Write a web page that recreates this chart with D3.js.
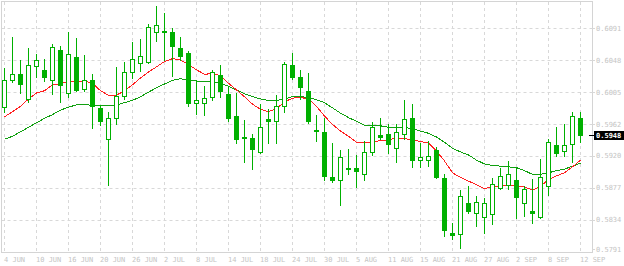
<!DOCTYPE html>
<html>
<head>
<meta charset="utf-8">
<script src="https://cdn.jsdelivr.net/npm/d3@7"></script>
<style>
  body { margin: 0; background: #fff; }
  svg { display: block; }
  text { font-family: "DejaVu Sans Mono", monospace; font-size: 7px; }
</style>
</head>
<body>
<div id="chart"></div>
<script>
// daily bars, oldest first (73 bars, 4 JUN .. 12 SEP)
var open = [0.5985,0.6022,0.6030,0.5996,0.6040,0.6035,0.6021,0.6062,0.6004,0.6052,
  0.6009,0.6021,0.5984,0.5942,0.5970,0.6000,0.6032,0.6044,0.6045,0.6085,
  0.6087,0.6085,0.6064,0.6058,0.5990,0.5991,0.5998,0.6028,0.6003,0.5973,
  0.5945,0.5944,0.5925,0.5969,0.5966,0.5987,0.6041,0.6025,0.6007,0.5955,
  0.5952,0.5891,0.5888,0.5902,0.5903,0.5895,0.5925,0.5948,0.5949,0.5930,
  0.5949,0.5970,0.5914,0.5914,0.5928,0.5890,0.5817,0.5815,0.5857,0.5843,
  0.5838,0.5842,0.5877,0.5881,0.5888,0.5856,0.5846,0.5838,0.5880,0.5934,
  0.5926,0.5935,0.5970];
var high = [0.6037,0.6079,0.6048,0.6064,0.6056,0.6049,0.6070,0.6067,0.6086,0.6077,
  0.6055,0.6030,0.5988,0.5978,0.6039,0.6046,0.6072,0.6076,0.6096,0.6120,
  0.6111,0.6091,0.6079,0.6060,0.6021,0.6013,0.6035,0.6041,0.6013,0.6004,
  0.5968,0.5949,0.5989,0.5982,0.6001,0.6046,0.6058,0.6035,0.6031,0.5974,
  0.5971,0.5937,0.5928,0.5929,0.5921,0.5939,0.5965,0.5970,0.5963,0.5963,
  0.5995,0.5989,0.5937,0.5940,0.5931,0.5896,0.5830,0.5874,0.5879,0.5866,
  0.5863,0.5890,0.5904,0.5913,0.5904,0.5879,0.5889,0.5916,0.5943,0.5958,
  0.5962,0.5978,0.5978];
var low = [0.5978,0.6019,0.6004,0.5992,0.6026,0.6020,0.6003,0.5992,0.5998,0.6007,
  0.6006,0.5957,0.5961,0.5881,0.5962,0.5996,0.6024,0.6033,0.6044,0.6073,
  0.6048,0.6027,0.6048,0.5986,0.5976,0.5974,0.5994,0.5998,0.5966,0.5937,
  0.5911,0.5902,0.5923,0.5937,0.5937,0.5978,0.6023,0.5996,0.5964,0.5940,
  0.5887,0.5885,0.5854,0.5896,0.5878,0.5888,0.5921,0.5943,0.5923,0.5911,
  0.5943,0.5905,0.5905,0.5906,0.5890,0.5813,0.5808,0.5797,0.5843,0.5826,
  0.5816,0.5828,0.5875,0.5876,0.5836,0.5839,0.5830,0.5837,0.5867,0.5920,
  0.5919,0.5911,0.5938];
var close = [0.6022,0.6030,0.6016,0.6042,0.6048,0.6026,0.6065,0.6014,0.6056,0.6008,
  0.6022,0.5987,0.5966,0.5970,0.6000,0.6032,0.6050,0.6054,0.6092,0.6095,
  0.6085,0.6067,0.6054,0.5991,0.5994,0.5997,0.6032,0.6007,0.5970,0.5943,
  0.5944,0.5929,0.5958,0.5966,0.5986,0.6043,0.6025,0.6012,0.5967,0.5953,
  0.5893,0.5887,0.5918,0.5904,0.5900,0.5925,0.5958,0.5945,0.5935,0.5952,
  0.5969,0.5914,0.5918,0.5919,0.5891,0.5821,0.5814,0.5866,0.5846,0.5858,
  0.5856,0.5882,0.5893,0.5895,0.5864,0.5876,0.5843,0.5891,0.5938,0.5924,
  0.5934,0.5973,0.5948];

// moving averages as shown (red = fast, green = slow)
var maFast = [0.5972,0.5979,0.5986,0.5996,0.6004,0.6007,0.6015,0.6016,0.6020,0.6020,
  0.6020,0.6017,0.6007,0.6001,0.6001,0.6007,0.6015,0.6024,0.6032,0.6039,
  0.6046,0.6050,0.6048,0.6042,0.6035,0.6029,0.6030,0.6027,0.6017,0.6008,
  0.5999,0.5989,0.5982,0.5979,0.5983,0.5992,0.5997,0.5998,0.5996,0.5986,
  0.5973,0.5962,0.5953,0.5946,0.5938,0.5937,0.5939,0.5940,0.5941,0.5944,
  0.5943,0.5941,0.5939,0.5937,0.5926,0.5913,0.5897,0.5891,0.5886,0.5881,
  0.5876,0.5878,0.5880,0.5881,0.5880,0.5878,0.5874,0.5879,0.5888,0.5893,
  0.5897,0.5905,0.5914];
var maSlow = [0.5942,0.5946,0.5952,0.5958,0.5964,0.5970,0.5975,0.5981,0.5985,0.5988,
  0.5989,0.5987,0.5987,0.5987,0.5988,0.5991,0.5994,0.5999,0.6005,0.6011,
  0.6016,0.6021,0.6023,0.6021,0.6020,0.6019,0.6019,0.6017,0.6013,0.6008,
  0.6003,0.5999,0.5996,0.5994,0.5994,0.5996,0.5999,0.5999,0.5998,0.5995,
  0.5991,0.5984,0.5977,0.5971,0.5966,0.5961,0.5961,0.5960,0.5958,0.5958,
  0.5958,0.5956,0.5953,0.5950,0.5945,0.5938,0.5930,0.5925,0.5921,0.5914,
  0.5909,0.5907,0.5906,0.5905,0.5904,0.5900,0.5895,0.5895,0.5897,0.5900,
  0.5902,0.5906,0.5910];

var xLabels = ["4 JUN","10 JUN","16 JUN","20 JUN","26 JUN","2 JUL","8 JUL","14 JUL","18 JUL","24 JUL",
  "30 JUL","5 AUG","11 AUG","15 AUG","21 AUG","27 AUG","2 SEP","8 SEP","12 SEP"];
var labelBars = [0,4,8,12,16,20,24,28,32,36,40,44,48,52,56,60,64,68,72];
var yTicks = [0.6091,0.6048,0.6005,0.5962,0.5920,0.5877,0.5834,0.5791];
var lastPrice = 0.5948;

var width = 624, height = 266;
var candleCol = "#00b000", gridCol = "#d8d8d8", textCol = "#c4c4c4";

var svg = d3.select("#chart").append("svg")
    .attr("width", width)
    .attr("height", height);

var x = d3.scaleLinear().domain([0, open.length - 1]).range([4.5, 580.5]);
var y = d3.scaleLinear().domain([0.5791, 0.6091]).range([252, 28]);
var py = function(v) { return Math.round(y(v)); };

// grid
svg.append("g").selectAll("line")
    .data(yTicks)
    .enter().append("line")
    .attr("x1", 1.5).attr("x2", 592)
    .attr("y1", d => py(d) + 0.5).attr("y2", d => py(d) + 0.5)
    .attr("stroke", gridCol)
    .attr("stroke-dasharray", "3,3");

svg.append("g").selectAll("line")
    .data(labelBars)
    .enter().append("line")
    .attr("x1", d => x(d)).attr("x2", d => x(d))
    .attr("y1", 2).attr("y2", 252)
    .attr("stroke", gridCol)
    .attr("stroke-dasharray", "3,3");

// frame
svg.append("rect")
    .attr("x", 1.5).attr("y", 1.5)
    .attr("width", 591).attr("height", 251)
    .attr("fill", "none")
    .attr("stroke", "#d4d4d4");

// moving averages
var line = d3.line()
    .x((d, i) => x(i))
    .y(d => y(d));

svg.append("path")
    .attr("d", line(maSlow))
    .attr("fill", "none")
    .attr("stroke", "#10a010")
    .attr("stroke-width", 1)
    .attr("shape-rendering", "crispEdges");

svg.append("path")
    .attr("d", line(maFast))
    .attr("fill", "none")
    .attr("stroke", "#ff2020")
    .attr("stroke-width", 1)
    .attr("shape-rendering", "crispEdges");

// candles
var bars = d3.range(open.length);
var g = svg.append("g").attr("shape-rendering", "crispEdges");

g.selectAll(".wick")
    .data(bars)
    .enter().append("rect")
    .attr("x", i => x(i) - 0.5)
    .attr("width", 1)
    .attr("y", i => py(high[i]))
    .attr("height", i => py(low[i]) - py(high[i]) + 1)
    .attr("fill", candleCol);

g.selectAll(".body")
    .data(bars)
    .enter().append("rect")
    .each(function(i) {
        var top = py(Math.max(open[i], close[i]));
        var bot = py(Math.min(open[i], close[i]));
        var r = d3.select(this);
        if (close[i] > open[i] && bot - top >= 2) {
            // bullish: hollow
            r.attr("x", x(i) - 2).attr("y", top + 0.5)
             .attr("width", 4).attr("height", bot - top)
             .attr("fill", "#fff").attr("stroke", candleCol);
        } else {
            r.attr("x", x(i) - 2.5).attr("y", top)
             .attr("width", 5).attr("height", Math.max(1, bot - top + 1))
             .attr("fill", candleCol);
        }
    });

// price axis
var ya = svg.append("g");
ya.selectAll("line")
    .data(yTicks)
    .enter().append("line")
    .attr("x1", 592).attr("x2", 595)
    .attr("y1", d => Math.min(py(d), 249) + 0.5).attr("y2", d => Math.min(py(d), 249) + 0.5)
    .attr("stroke", gridCol);
ya.selectAll("text")
    .data(yTicks)
    .enter().append("text")
    .attr("x", 596)
    .attr("y", d => Math.min(y(d) + 2.5, 251.5))
    .attr("fill", textCol)
    .text(d => d.toFixed(4));

// current price marker
var ly = py(lastPrice);
svg.append("line")
    .attr("x1", 589).attr("x2", 594)
    .attr("y1", ly + 0.5).attr("y2", ly + 0.5)
    .attr("stroke", "#000");
svg.append("rect")
    .attr("x", 594).attr("y", ly - 4)
    .attr("width", 30).attr("height", 9)
    .attr("fill", "#000");
svg.append("text")
    .attr("x", 596).attr("y", ly + 3)
    .attr("fill", "#fff")
    .style("font-weight", "bold")
    .text(lastPrice.toFixed(4));

// date axis
svg.append("g").selectAll("text")
    .data(labelBars)
    .enter().append("text")
    .attr("x", d => x(d) - 0.5)
    .attr("y", 262)
    .attr("fill", textCol)
    .text((d, i) => xLabels[i]);
</script>
</body>
</html>
